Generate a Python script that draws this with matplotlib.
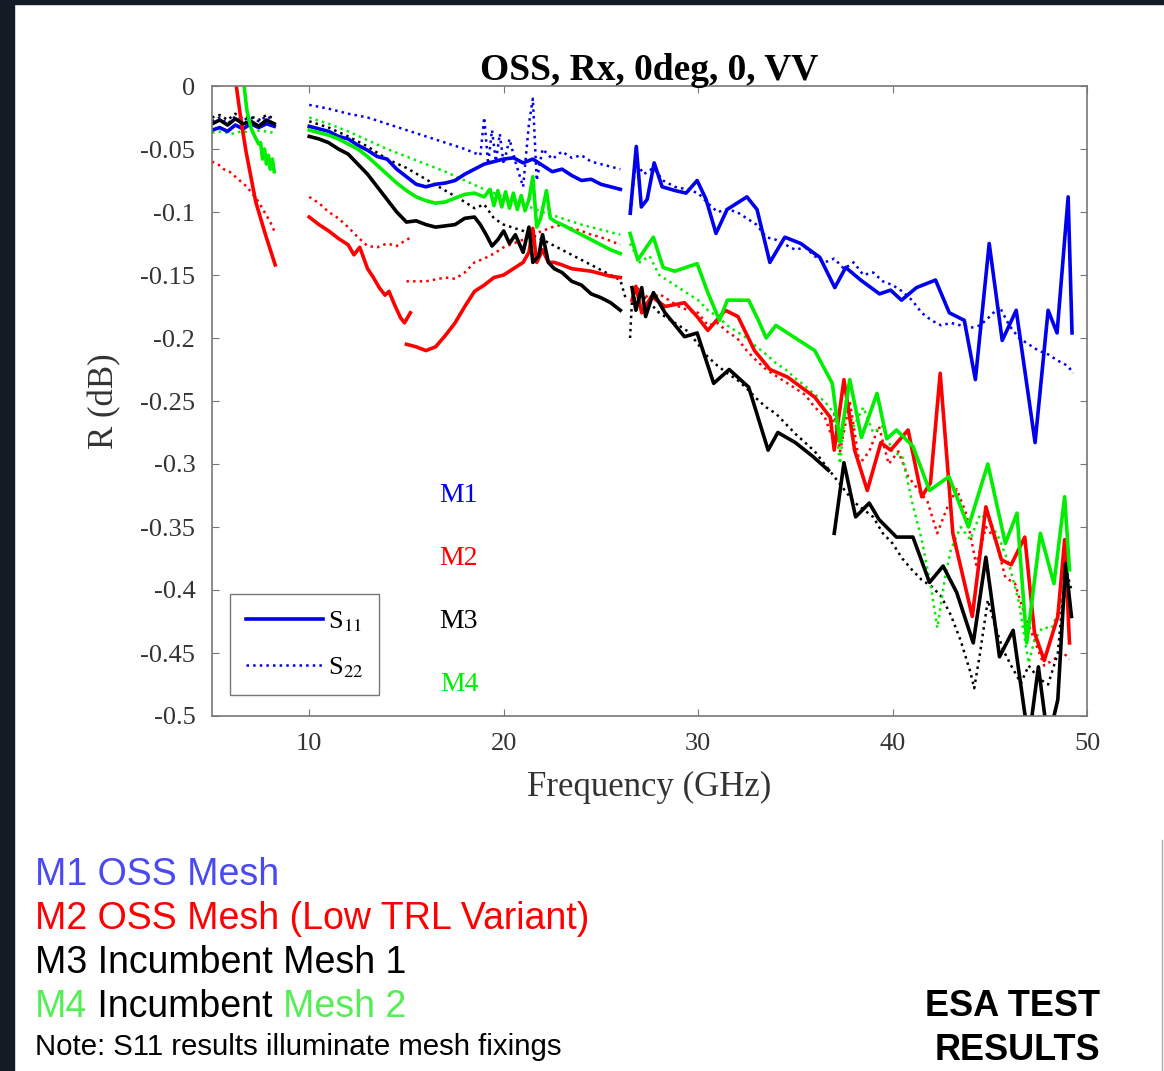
import numpy as np
import matplotlib.pyplot as plt
from matplotlib.patches import Rectangle

nan = np.nan

# ---------------- data (GHz, dB); nan = break between measurement bands
# M1  OSS mesh
m1_s11_f = [5.0, 5.4, 5.8, 6.2, 6.6, 7.0, 7.4, 7.8, 8.2, nan,
            10.0, 10.5, 11.0, 11.5, 12.0, 12.5, 13.0, 13.5, 14.0, 14.5, 15.0, 15.5, 16.0, 16.5,
            17.0, 17.5, 18.0, 18.5, 19.0, 19.5, 20.0, 20.5, 21.0, 21.5, 22.0, 22.5, 23.0, 23.5,
            24.0, 24.5, 25.0, 25.5, 26.0, nan,
            26.51, 26.82, 27.08, 27.38, 27.74, 28.15, 28.82, 29.38, 29.95, 30.41, 30.92, 31.49,
            32.51, 33.03, 33.69, 34.46, 35.28, 36.26, 37.03, 37.59, 38.36, 39.33, 39.9, 40.46,
            41.23, 42.21, 42.92, 43.69, 44.26, 44.97, 45.64, 46.36, 47.33, 48.0, 48.46, 49.03, 49.23]
m1_s11_r = [-0.035, -0.033, -0.036, -0.031, -0.034, -0.030, -0.033, -0.030, -0.032, nan,
            -0.032, -0.034, -0.036, -0.040, -0.042, -0.047, -0.051, -0.056, -0.058, -0.066, -0.072,
            -0.078, -0.080, -0.078, -0.077, -0.075, -0.070, -0.066, -0.062, -0.060, -0.058, -0.057,
            -0.061, -0.058, -0.063, -0.068, -0.066, -0.071, -0.075, -0.074, -0.078, -0.080, -0.082, nan,
            -0.101, -0.048, -0.096, -0.090, -0.061, -0.080, -0.083, -0.085, -0.075, -0.090, -0.117,
            -0.098, -0.088, -0.098, -0.140, -0.120, -0.125, -0.136, -0.160, -0.144, -0.154, -0.165,
            -0.162, -0.170, -0.160, -0.154, -0.180, -0.186, -0.233, -0.125, -0.202, -0.178, -0.283,
            -0.178, -0.196, -0.088, -0.196]
m1_s22_f = [5.0, 5.4, 5.8, 6.2, 6.6, 7.0, 7.4, 7.8, 8.2, nan,
            10.0, 11.0, 12.0, 13.0, 14.0, 15.0, 16.0, 17.0, 18.0, 18.8, 19.0, 19.2, 19.4, 19.6,
            19.8, 20.0, 20.3, 20.6, 21.0, 21.3, 21.5, 21.7, 22.0, 22.5, 23.0, 23.5, 24.0, 24.5,
            25.0, 25.5, 26.0, nan,
            26.5, 26.8, 27.2, 27.7, 28.2, 28.8, 29.4, 30.0, 30.5, 31.0, 31.5, 32.0, 32.5, 33.0,
            33.5, 34.0, 34.5, 35.0, 35.5, 36.0, 36.5, 37.0, 37.5, 38.0, 38.5, 39.0, 39.5, 40.0,
            40.5, 41.0, 41.5, 42.0, 42.5, 43.0, 43.5, 44.0, 44.5, 45.0, 45.5, 46.0, 46.5, 47.0,
            47.5, 48.0, 48.5, 49.0, 49.3]
m1_s22_r = [-0.028, -0.025, -0.030, -0.024, -0.027, -0.025, -0.028, -0.024, -0.027, nan,
            -0.015, -0.018, -0.022, -0.025, -0.030, -0.035, -0.040, -0.045, -0.050, -0.055, -0.025,
            -0.062, -0.035, -0.060, -0.038, -0.062, -0.042, -0.060, -0.080, -0.030, -0.010, -0.075,
            -0.050, -0.058, -0.052, -0.057, -0.055, -0.060, -0.062, -0.064, -0.066, nan,
            -0.100, -0.060, -0.070, -0.065, -0.075, -0.080, -0.082, -0.085, -0.093, -0.100, -0.098,
            -0.100, -0.105, -0.110, -0.120, -0.122, -0.126, -0.130, -0.128, -0.135, -0.140, -0.137,
            -0.145, -0.140, -0.150, -0.148, -0.155, -0.158, -0.163, -0.170, -0.180, -0.186, -0.190,
            -0.188, -0.190, -0.192, -0.190, -0.183, -0.175, -0.190, -0.200, -0.205, -0.210, -0.213,
            -0.218, -0.222, -0.228]

# M2  OSS mesh (low TRL variant)
m2_s11_f = [6.25, 6.5, 6.75, 7.0, 7.25, 7.5, 7.75, 8.0, 8.25, nan,
            10.0, 10.5, 11.0, 11.5, 12.0, 12.3, 12.6, 13.0, 13.3, 13.6, 13.9, 14.1, 14.4, 14.7,
            14.9, 15.2, nan,
            15.0, 15.5, 16.0, 16.5, 17.0, 17.5, 18.0, 18.5, 19.0, 19.5, 20.0, 20.5, 21.0, 21.3,
            21.5, 21.7, 22.0, 22.3, 22.6, 23.0, 23.5, 24.0, 24.5, 25.0, 25.5, 26.0, nan,
            26.6, 26.8, 27.1, 27.6, 28.3, 29.3, 29.95, 30.5, 31.4, 32.05, 32.9, 33.7, 34.6, 35.3,
            36.0, 36.8, 37.0, 37.5, 38.05, 38.7, 39.4, 39.9, 40.8, 41.5, 41.95, 42.45, 43.1, 44.1,
            44.8, 45.6, 46.1, 46.8, 47.3, 47.8, 48.5, 48.85, 49.1]
m2_s11_r = [0.0, -0.028, -0.052, -0.072, -0.092, -0.105, -0.118, -0.130, -0.142, nan,
            -0.104, -0.110, -0.115, -0.121, -0.126, -0.134, -0.128, -0.145, -0.152, -0.160, -0.166,
            -0.163, -0.174, -0.184, -0.188, -0.180, nan,
            -0.205, -0.207, -0.210, -0.207, -0.198, -0.188, -0.175, -0.163, -0.158, -0.152, -0.150,
            -0.145, -0.140, -0.132, -0.113, -0.140, -0.130, -0.140, -0.140, -0.142, -0.145, -0.146,
            -0.147, -0.149, -0.151, -0.152, nan,
            -0.170, -0.159, -0.180, -0.167, -0.175, -0.172, -0.183, -0.194, -0.178, -0.183, -0.210,
            -0.225, -0.231, -0.239, -0.247, -0.263, -0.289, -0.233, -0.289, -0.321, -0.283, -0.289,
            -0.273, -0.326, -0.315, -0.228, -0.355, -0.421, -0.334, -0.376, -0.380, -0.358, -0.434,
            -0.456, -0.421, -0.360, -0.442]
m2_s22_f = [5.0, 5.3, 5.6, 5.9, 6.2, 6.5, 6.8, 7.1, 7.4, 7.7, 8.0, 8.2, nan,
            10.0, 10.5, 11.0, 11.5, 12.0, 12.5, 13.0, 13.5, 14.0, 14.5, 15.0, 15.3, nan,
            15.0, 16.0, 17.0, 17.5, 18.0, 18.5, 19.0, 19.5, 20.0, 20.5, 21.0, 21.5, 22.0, 22.5,
            23.0, 23.5, 24.0, 24.5, 25.0, 25.5, 26.0, nan,
            26.6, 27.0, 27.5, 28.0, 28.5, 29.0, 29.5, 30.0, 30.5, 31.0, 31.5, 32.0, 32.5, 33.0,
            33.5, 34.0, 34.5, 35.0, 35.5, 36.0, 36.5, 36.8, 37.0, 37.3, 37.8, 38.3, 38.8, 39.3,
            39.8, 40.3, 40.8, 41.3, 41.8, 42.3, 42.8, 43.3, 43.8, 44.3, 44.8, 45.3, 45.8, 46.3,
            46.8, 47.3, 47.8, 48.3, 48.8, 49.1]
m2_s22_r = [-0.060, -0.062, -0.066, -0.068, -0.072, -0.076, -0.080, -0.086, -0.092, -0.100,
            -0.108, -0.115, nan,
            -0.088, -0.093, -0.100, -0.105, -0.112, -0.120, -0.127, -0.128, -0.125, -0.127, -0.122,
            -0.120, nan,
            -0.155, -0.155, -0.152, -0.153, -0.148, -0.140, -0.137, -0.133, -0.128, -0.125, -0.122,
            -0.118, -0.115, -0.112, -0.110, -0.113, -0.115, -0.118, -0.120, -0.123, -0.126, nan,
            -0.165, -0.160, -0.170, -0.165, -0.170, -0.175, -0.178, -0.180, -0.190, -0.188, -0.195,
            -0.200, -0.210, -0.218, -0.225, -0.230, -0.235, -0.240, -0.245, -0.255, -0.262, -0.275,
            -0.260, -0.290, -0.250, -0.300, -0.290, -0.270, -0.300, -0.290, -0.310, -0.320, -0.330,
            -0.355, -0.335, -0.320, -0.340, -0.380, -0.350, -0.360, -0.390, -0.395, -0.420, -0.440,
            -0.460, -0.455, -0.450, -0.455]

# M3  incumbent mesh 1
m3_s11_f = [5.0, 5.4, 5.8, 6.2, 6.6, 7.0, 7.4, 7.8, 8.2, nan,
            10.0, 10.5, 11.0, 11.5, 12.0, 12.5, 13.0, 13.5, 14.0, 14.5, 15.0, 15.5, 16.0, 16.5,
            17.0, 17.5, 18.0, 18.5, 18.8, 19.1, 19.4, 19.7, 20.0, 20.3, 20.6, 21.0, 21.3, 21.5,
            21.8, 22.0, 22.3, 22.6, 23.0, 23.5, 24.0, 24.5, 25.0, 25.5, 26.0, nan,
            26.6, 26.8, 27.1, 27.3, 27.7, 28.3, 29.3, 29.95, 30.8, 31.6, 32.6, 33.6, 34.1, 35.0,
            35.9, 36.7, nan,
            37.0, 37.5, 38.1, 38.8, 39.3, 40.2, 41.05, 41.9, 42.6, 43.3, 44.15, 44.8, 45.5, 46.2,
            46.7, 47.0, 47.5, 48.0, 48.5, 48.9, 49.2]
m3_s11_r = [-0.030, -0.027, -0.031, -0.026, -0.030, -0.028, -0.032, -0.027, -0.030, nan,
            -0.040, -0.042, -0.045, -0.050, -0.054, -0.062, -0.070, -0.080, -0.090, -0.100, -0.108,
            -0.107, -0.110, -0.112, -0.111, -0.110, -0.105, -0.104, -0.110, -0.118, -0.127, -0.122,
            -0.115, -0.125, -0.118, -0.132, -0.112, -0.140, -0.135, -0.118, -0.140, -0.145, -0.148,
            -0.155, -0.158, -0.165, -0.168, -0.172, -0.178, nan,
            -0.160, -0.178, -0.160, -0.183, -0.164, -0.180, -0.199, -0.196, -0.236, -0.225, -0.239,
            -0.289, -0.275, -0.283, -0.294, -0.305, nan,
            -0.355, -0.299, -0.342, -0.331, -0.344, -0.358, -0.358, -0.394, -0.381, -0.402, -0.442,
            -0.374, -0.453, -0.432, -0.487, -0.520, -0.461, -0.520, -0.487, -0.379, -0.421]
m3_s22_f = [5.0, 5.4, 5.8, 6.2, 6.6, 7.0, 7.4, 7.8, 8.2, nan,
            10.0, 11.0, 12.0, 13.0, 14.0, 15.0, 16.0, 17.0, 18.0, 18.5, 19.0, 19.5, 20.0, 21.0,
            22.0, 23.0, 24.0, 25.0, 26.0, 26.3, nan,
            26.5, 26.6, 27.0, 27.5, 28.0, 28.5, 29.0, 29.5, 30.0, 30.5, 31.0, 31.5, 32.0, 32.5,
            33.0, 33.5, 34.0, 34.5, 35.0, 35.5, 36.0, 36.5, 37.0, 37.5, 38.0, 38.5, 39.0, 39.5,
            40.0, 40.5, 41.0, 41.5, 42.0, 42.5, 43.0, 43.5, 44.0, 44.2, 44.5, 44.9, 45.3, 45.7,
            46.1, 46.6, 47.0, 47.5, 48.0, 48.5, 48.9, 49.2]
m3_s22_r = [-0.025, -0.023, -0.027, -0.022, -0.026, -0.024, -0.027, -0.023, -0.026, nan,
            -0.028, -0.033, -0.040, -0.048, -0.058, -0.065, -0.074, -0.083, -0.092, -0.097, -0.094,
            -0.105, -0.110, -0.115, -0.122, -0.130, -0.138, -0.146, -0.154, -0.170, nan,
            -0.200, -0.170, -0.165, -0.172, -0.180, -0.185, -0.190, -0.195, -0.205, -0.215, -0.222,
            -0.228, -0.233, -0.240, -0.248, -0.255, -0.260, -0.268, -0.276, -0.283, -0.290, -0.300,
            -0.310, -0.320, -0.330, -0.336, -0.342, -0.355, -0.363, -0.375, -0.384, -0.392, -0.397,
            -0.405, -0.420, -0.440, -0.465, -0.478, -0.450, -0.408, -0.430, -0.448, -0.460, -0.474,
            -0.460, -0.470, -0.475, -0.450, -0.382, -0.400]

# M4  incumbent mesh 2
m4_s11_f = [6.65, 6.8, 7.0, 7.2, 7.4, 7.5, 7.6, 7.7, 7.8, 7.9, 8.0, 8.1, 8.2, nan,
            10.0, 10.5, 11.0, 11.5, 12.0, 12.5, 13.0, 13.5, 14.0, 14.5, 15.0, 15.5, 16.0, 16.5,
            17.0, 17.5, 18.0, 18.5, 19.0, 19.3, 19.5, 19.7, 19.9, 20.1, 20.3, 20.5, 20.7, 20.9,
            21.1, 21.3, 21.5, 21.7, 21.9, 22.2, 22.4, 22.7, 23.0, 23.5, 24.0, 24.5, 25.0, 25.5,
            26.0, nan,
            26.5, 26.9, 27.7, 28.2, 28.8, 29.95, 30.5, 31.1, 31.5, 32.6, 33.1, 33.5, 34.0, 35.0,
            36.0, 36.9, 37.3, 37.8, 38.4, 39.2, 39.7, 40.2, 41.05, 41.9, 42.9, 43.9, 44.9, 45.8,
            46.4, 46.9, 47.6, 48.3, 48.85, 49.1]
m4_s11_r = [0.0, -0.020, -0.033, -0.040, -0.046, -0.045, -0.058, -0.050, -0.062, -0.055,
            -0.066, -0.058, -0.068, nan,
            -0.035, -0.037, -0.039, -0.042, -0.046, -0.050, -0.056, -0.063, -0.070, -0.077, -0.083,
            -0.088, -0.091, -0.093, -0.092, -0.089, -0.086, -0.085, -0.088, -0.082, -0.095, -0.083,
            -0.096, -0.084, -0.097, -0.085, -0.098, -0.087, -0.099, -0.090, -0.072, -0.112, -0.105,
            -0.083, -0.105, -0.108, -0.110, -0.114, -0.118, -0.122, -0.126, -0.130, -0.133, nan,
            -0.117, -0.138, -0.120, -0.144, -0.147, -0.141, -0.164, -0.186, -0.170, -0.170, -0.186,
            -0.200, -0.190, -0.200, -0.210, -0.236, -0.283, -0.233, -0.279, -0.244, -0.280, -0.273,
            -0.286, -0.321, -0.310, -0.350, -0.300, -0.363, -0.339, -0.442, -0.355, -0.395, -0.326,
            -0.384]
m4_s22_f = [5.0, 5.5, 6.0, 6.5, 7.0, 7.5, 8.0, 8.2, nan,
            10.0, 11.0, 12.0, 13.0, 14.0, 15.0, 16.0, 17.0, 18.0, 19.0, 20.0, 21.0, 22.0, 23.0,
            24.0, 25.0, 26.0, nan,
            26.5, 27.0, 27.5, 28.0, 28.5, 29.0, 29.5, 30.0, 30.5, 31.0, 31.5, 32.0, 32.5, 33.0,
            33.5, 34.0, 34.5, 35.0, 35.5, 36.0, 36.5, 37.0, 37.3, 37.6, 38.0, 38.5, 39.0, 39.5,
            40.0, 40.5, 41.0, 41.5, 42.0, 42.3, 42.7, 43.0, 43.5, 44.0, 44.5, 45.0, 45.5, 46.0,
            46.5, 47.0, 47.3, 47.7, 48.2, 48.7, 49.1]
m4_s22_r = [-0.037, -0.036, -0.038, -0.036, -0.037, -0.035, -0.037, -0.036, nan,
            -0.025, -0.030, -0.036, -0.043, -0.050, -0.056, -0.062, -0.068, -0.075, -0.082, -0.088,
            -0.094, -0.100, -0.105, -0.110, -0.114, -0.118, nan,
            -0.125, -0.140, -0.135, -0.150, -0.155, -0.160, -0.165, -0.170, -0.178, -0.183, -0.190,
            -0.195, -0.200, -0.207, -0.213, -0.220, -0.225, -0.232, -0.238, -0.245, -0.250, -0.260,
            -0.300, -0.250, -0.270, -0.255, -0.275, -0.270, -0.290, -0.294, -0.330, -0.360, -0.400,
            -0.430, -0.390, -0.368, -0.350, -0.360, -0.340, -0.345, -0.360, -0.380, -0.410, -0.458,
            -0.440, -0.430, -0.430, -0.410, -0.400]

mesh_names = ["M1", "M2", "M3", "M4"]
mesh_colors = ["#0000ee", "#ff0000", "#000000", "#00ee00"]
series = [(m1_s11_f, m1_s11_r, m1_s22_f, m1_s22_r),
          (m2_s11_f, m2_s11_r, m2_s22_f, m2_s22_r),
          (m3_s11_f, m3_s11_r, m3_s22_f, m3_s22_r),
          (m4_s11_f, m4_s11_r, m4_s22_f, m4_s22_r)]

plt.rcParams['mathtext.fontset'] = 'stix'
serif = 'Liberation Serif'
sans = 'Liberation Sans'

fig = plt.figure(figsize=(11.64, 10.71), dpi=100)
fig.patches.append(Rectangle((0, 0), 14 / 1164, 1, transform=fig.transFigure,
                             color='#141b27', zorder=0))
fig.patches.append(Rectangle((0, 1 - 4 / 1071), 1, 4 / 1071, transform=fig.transFigure,
                             color='#141b27', zorder=0))

ax = fig.add_axes([212 / 1164, 1 - 716 / 1071, 875 / 1164, 630 / 1071])

# dotted (S22) first, solid (S11) on top
for (f11, r11, f22, r22), c in zip(series, mesh_colors):
    ax.plot(f22, r22, color=c, lw=1.8, ls=':')
for (f11, r11, f22, r22), c in zip(series, mesh_colors):
    ax.plot(f11, r11, color=c, lw=2.6)

ax.set_xlim(5, 50)
ax.set_ylim(-0.5, 0)
ax.set_xticks([10, 20, 30, 40, 50])
ax.set_yticks(np.arange(-0.5, 0.001, 0.05))
ax.set_yticklabels(["-0.5", "-0.45", "-0.4", "-0.35", "-0.3", "-0.25", "-0.2", "-0.15",
                    "-0.1", "-0.05", "0"])
ax.tick_params(direction='in', length=5, top=True, right=True, labelsize=19,
               labelcolor='#333333', color='#777777', pad=12)
for lab in ax.get_xticklabels() + ax.get_yticklabels():
    lab.set_family(serif)
for sp in ax.spines.values():
    sp.set_color('#777777')
    sp.set_linewidth(1.2)

ax.set_title("OSS, Rx, 0deg, 0, VV", family=serif, fontweight='bold', fontsize=27, pad=4)
ax.set_xlabel("Frequency (GHz)", family=serif, fontsize=25, color='#333333', labelpad=12)
ax.set_ylabel("R (dB)", family=serif, fontsize=25, color='#333333', labelpad=14)

# mesh labels inside the plot
for i, (name, c) in enumerate(zip(mesh_names, mesh_colors)):
    ax.text(17.7, -0.325 - 0.05 * i, name, color=c, family=serif, fontsize=20,
            ha='center', va='center')

# S11 / S22 legend
h1, = ax.plot([], [], color=mesh_colors[0], lw=2.6)
h2, = ax.plot([], [], color=mesh_colors[0], lw=1.8, ls=':')
leg = ax.legend([h1, h2], [r"S$_{11}$", r"S$_{22}$"], loc='lower left',
                bbox_to_anchor=(0.012, 0.02), fontsize=19, frameon=True, fancybox=False,
                handlelength=2.9, handletextpad=0.2, borderpad=0.6, labelspacing=0.8,
                borderaxespad=0.3)
leg.get_frame().set_edgecolor('#555555')
leg.get_frame().set_linewidth(1.0)
for t in leg.get_texts():
    t.set_family(serif)

# text block below the chart
fig.canvas.draw()
renderer = fig.canvas.get_renderer()


def line_of_parts(parts, x0, y, size):
    x = x0
    for txt, col in parts:
        t = fig.text(x / 1164, 1 - y / 1071, txt, color=col, family=sans, fontsize=size,
                     ha='left', va='center')
        bb = t.get_window_extent(renderer)
        x += bb.width


blue_txt = "#4a4af2"
green_txt = "#55ee55"
line_of_parts([("M1 OSS Mesh", blue_txt)], 35, 875, 27)
line_of_parts([("M2 OSS Mesh (Low TRL Variant)", "#ff0000")], 35, 919, 27)
line_of_parts([("M3 Incumbent Mesh 1", "#000000")], 35, 963, 27)
line_of_parts([("M4", green_txt), (" Incumbent ", "#000000"), ("Mesh 2", green_txt)], 35, 1007, 27)
line_of_parts([("Note: S11 results illuminate mesh fixings", "#000000")], 35, 1047, 21.2)

fig.text(1100 / 1164, 1 - 1006 / 1071, "ESA TEST", family=sans, fontweight='bold', fontsize=26,
         ha='right', va='center')
fig.text(1100 / 1164, 1 - 1050 / 1071, "RESULTS", family=sans, fontweight='bold', fontsize=26,
         ha='right', va='center')
fig.add_artist(plt.Line2D([1162 / 1164, 1162 / 1164], [0, 1 - 840 / 1071],
                          transform=fig.transFigure, color='#aaaaaa', lw=1))

fig.savefig("out.png", dpi=100)
